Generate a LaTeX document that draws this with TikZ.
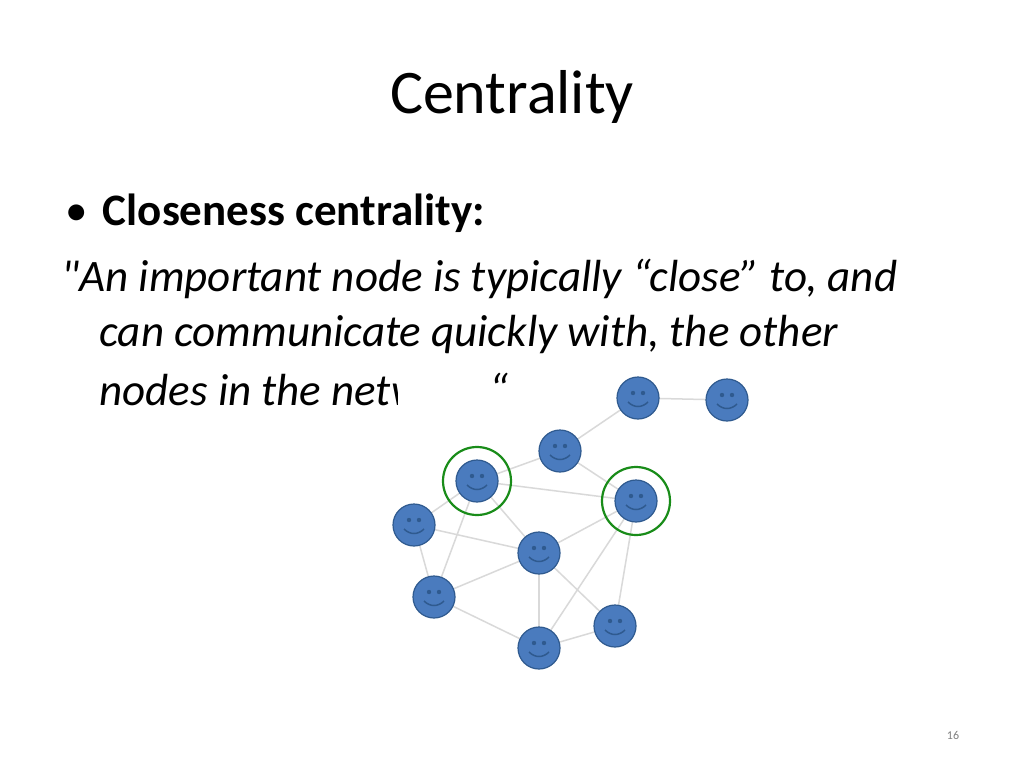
\documentclass[tikz,border=0pt]{standalone}
\usepackage{fontspec}
\setmainfont{Carlito}
\usetikzlibrary{calc}
\definecolor{nodeblue}{HTML}{4A7BBE}
\definecolor{nodeline}{HTML}{2F5A8F}
\begin{document}
\begin{tikzpicture}[x=1pt,y=-1pt,
  smiley/.style={circle,minimum size=42pt,inner sep=0pt,fill=nodeblue,draw=nodeline,line width=1.2pt},
  edge/.style={draw=gray!30,line width=1.5pt},
  ring/.style={draw=green!50!black!90,line width=2.2pt}]
\useasboundingbox (0,0) rectangle (1024,768);
\fill[white] (0,0) rectangle (1024,768);
\node[font=\fontsize{62}{70}\selectfont] (title) at (512,97) {Centrality};
\node[anchor=west,font=\fontsize{45}{52}\selectfont] (bul) at (62,213) {•\hspace{15pt}\textbf{Closeness centrality:}};
\node[anchor=west,font=\fontsize{45}{52}\selectfont\itshape] (l1) at (58,279) {\textquotedbl An important node is typically “close” to, and};
\node[anchor=west,font=\fontsize{45}{52}\selectfont\itshape] (l2) at (96,334) {can communicate quickly with, the other};
\node[anchor=west,font=\fontsize{45}{52}\selectfont\itshape] (l3) at (96,389) {nodes in the network.“};
\fill[white] (398,394) rectangle (748,668);
\fill[white] (398,370) rectangle (490,394);
\fill[white] (532,370) rectangle (748,394);
\node[font=\fontsize{12}{14}\selectfont,text=gray] (pg) at (953,735) {16};
\foreach \n/\x/\y in {A/638/398,B/727/400,C/560/451,D/477/481,E/636/501,F/414/525,G/539/553,H/434/597,I/615/626,J/539/648}
  \coordinate (\n) at (\x,\y);
\foreach \a/\b in {A/B,A/C,C/D,C/E,D/E,D/F,D/H,D/G,F/G,F/H,G/E,H/G,H/J,G/J,G/I,E/J,E/I,J/I}
  \path[edge] (\a) -- (\b);
\foreach \n in {A,B,C,D,E,F,G,H,I,J}{
  \node[smiley] (s\n) at (\n) {};
  \fill[nodeline] ($(\n)+(-5,-5)$) circle (2.2);
  \fill[nodeline] ($(\n)+(5,-5)$) circle (2.2);
  \draw[nodeline,line width=1.5pt] ($(\n)+(-10,4)$) .. controls ($(\n)+(-4,10)$) and ($(\n)+(4,10)$) .. ($(\n)+(10,4)$);
}
\draw[ring] (D) circle (34);
\draw[ring] (E) circle (34);
\end{tikzpicture}
\end{document}
